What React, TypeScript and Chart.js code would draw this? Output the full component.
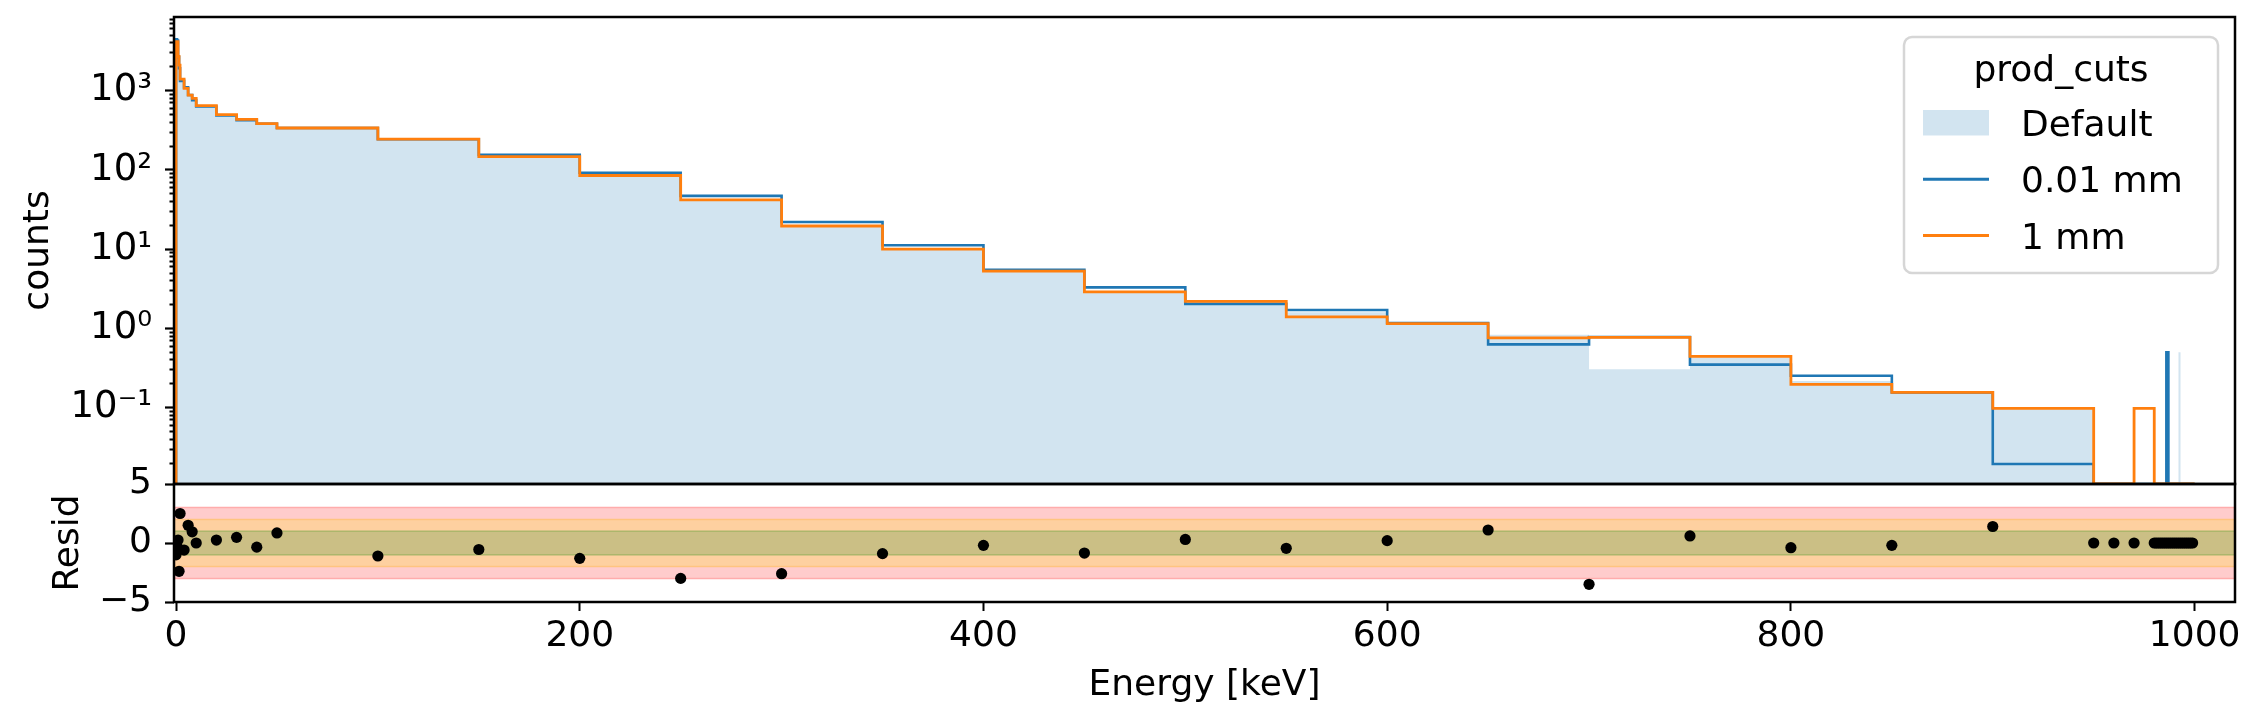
import React, { useEffect, useRef } from 'react';
import { Chart, registerables } from 'chart.js';
Chart.register(...registerables);

// histogram bin edges [keV]
const binEdges = [
  0, 0.5, 1, 1.5, 2, 4, 6, 8, 10, 20, 30, 40, 50,
  100, 150, 200, 250, 300, 350, 400, 450, 500, 550, 600, 650, 700, 750, 800, 850, 900,
  950, 960, 970,
  980, 981, 982, 983, 984, 985, 986, 987, 988, 989, 990, 991, 992, 993, 994, 995, 996, 997, 998, 999, 1000,
];

// counts per bin (one value per bin, left edge = binEdges[i])
const defaultCounts = [
  4460, 4300, 2650, 1920, 1330, 1070, 880, 760, 630, 485, 425, 383, 338,
  244, 147, 85, 42, 19.6, 10.0, 5.3, 2.9, 2.04, 1.6, 1.15, 0.83, 0.305, 0.44, 0.217, 0.156, 0.098,
  0, 0, 0,
  0, 0, 0, 0, 0, 0, 0, 0, 0, 0, 0, 0, 0.5, 0, 0, 0, 0, 0, 0, 0,
];
const fineCutCounts = [
  4460, 4300, 2650, 1920, 1330, 1100, 880, 760, 630, 485, 425, 383, 338,
  244, 155, 92, 47, 22, 11.2, 5.5, 3.3, 2.04, 1.71, 1.17, 0.63, 0.78, 0.35, 0.253, 0.156, 0.0195,
  0, 0, 0,
  0, 0, 0, 0, 0, 0, 0.5, 0, 0, 0, 0, 0, 0, 0, 0, 0, 0, 0, 0, 0,
];
const coarseCutCounts = [
  4150, 4150, 2700, 2100, 1400, 1070, 880, 800, 647, 500, 435, 383, 338,
  244, 147, 85, 42, 19.6, 10.0, 5.3, 2.9, 2.2, 1.4, 1.15, 0.76, 0.77, 0.445, 0.197, 0.156, 0.098,
  0, 0, 0.098,
  0, 0, 0, 0, 0, 0, 0, 0, 0, 0, 0, 0, 0, 0, 0, 0, 0, 0, 0, 0,
];
const residuals = [
  -1.0, -0.3, 0.25, -2.4, 2.5, -0.6, 1.5, 0.95, 0.0, 0.25, 0.48, -0.35, 0.85,
  -1.1, -0.55, -1.3, -3.0, -2.6, -0.9, -0.2, -0.85, 0.3, -0.45, 0.2, 1.1, -3.5, 0.6, -0.4, -0.2, 1.4,
  0, 0, 0,
  0, 0, 0, 0, 0, 0, 0, 0, 0, 0, 0, 0, 0, 0, 0, 0, 0, 0, 0, 0,
];

const seriesLabels = ['Default', '0.01 mm', '1 mm'];
const legendTitle = 'prod_cuts';

const xTicks = [0, 200, 400, 600, 800, 1000];
const countDecades = [0.1, 1, 10, 100, 1000];
const countDecadeLabels = ['10⁻¹', '10⁰', '10¹', '10²', '10³'];
const minorDecades = [0.01, 0.1, 1, 10, 100, 1000];
const minorSteps = [2, 3, 4, 5, 6, 7, 8, 9];
const residTicks = [-5, 0, 5];
const residTickLabels = ['−5', '0', '5'];
const sigmaBands = [3, 2, 1];

const X_MIN = -1;
const X_MAX = 1020;
const COUNT_MIN = 0.0109;
const COUNT_MAX = 8500;

const FONT = 'DejaVu Sans';
const bandFill = ['rgb(255,204,204)', 'rgb(254,208,160)', 'rgb(203,191,133)'];
const bandEdge = ['rgb(255,172,172)', 'rgb(255,196,128)', 'rgb(172,182,108)'];

// histogram outline as points for a 'before' stepped line
function stepPoints(values: number[]) {
  const pts = [{ x: binEdges[0], y: COUNT_MIN }];
  values.forEach((v, i) => pts.push({ x: binEdges[i], y: v > 0 ? v : COUNT_MIN }));
  pts.push({ x: binEdges[binEdges.length - 1], y: COUNT_MIN });
  return pts;
}

const framePlugin = {
  id: 'panelFrames',
  afterDatasetsDraw(chart: any) {
    const { ctx, chartArea, scales } = chart;
    ctx.save();
    ctx.strokeStyle = '#000';
    ctx.lineWidth = 2.5;
    for (const id of ['yMain', 'yRes']) {
      const s = scales[id];
      ctx.strokeRect(chartArea.left, s.top, chartArea.right - chartArea.left, s.bottom - s.top);
    }
    ctx.restore();
  },
};

const legendPlugin = {
  id: 'insetLegend',
  afterDraw(chart: any) {
    const { ctx, chartArea } = chart;
    const main = chart.scales.yMain;
    const width = 314;
    const height = 236;
    const right = chartArea.right - 17;
    const left = right - width;
    const top = main.top + 20;
    ctx.save();
    ctx.beginPath();
    ctx.roundRect(left, top, width, height, 8);
    ctx.fillStyle = 'rgba(255,255,255,0.8)';
    ctx.fill();
    ctx.strokeStyle = 'rgba(204,204,204,0.8)';
    ctx.lineWidth = 2.5;
    ctx.stroke();

    ctx.font = `36px "${FONT}"`;
    ctx.fillStyle = '#000';
    ctx.textAlign = 'center';
    ctx.textBaseline = 'alphabetic';
    ctx.fillText(legendTitle, left + width / 2, top + 44);

    const entries = chart.data.datasets.filter((ds: any) => ds.label);
    entries.forEach((ds: any, i: number) => {
      const base = top + 99 + i * 56.3;
      if (ds.fill) {
        ctx.fillStyle = ds.backgroundColor;
        ctx.fillRect(left + 19, base - 26, 66, 25.5);
      } else {
        ctx.strokeStyle = ds.borderColor;
        ctx.lineWidth = 3;
        ctx.beginPath();
        ctx.moveTo(left + 19, base - 13);
        ctx.lineTo(left + 85, base - 13);
        ctx.stroke();
      }
      ctx.fillStyle = '#000';
      ctx.textAlign = 'left';
      ctx.fillText(ds.label, left + 117, base);
    });
    ctx.restore();
  },
};

const App: React.FC = () => {
  const canvasRef = useRef<HTMLCanvasElement>(null);
  const chartRef = useRef<Chart | null>(null);

  useEffect(() => {
    if (!canvasRef.current) return;
    if (chartRef.current) chartRef.current.destroy();

    const bandDatasets: any[] = [];
    sigmaBands.forEach((s, i) => {
      bandDatasets.push({
        label: '',
        data: [{ x: X_MIN, y: s }, { x: X_MAX, y: s }],
        yAxisID: 'yRes',
        borderColor: bandEdge[i],
        borderWidth: 1.5,
        backgroundColor: bandFill[i],
        fill: '+1',
        pointRadius: 0,
        order: 40 - i * 2,
      });
      bandDatasets.push({
        label: '',
        data: [{ x: X_MIN, y: -s }, { x: X_MAX, y: -s }],
        yAxisID: 'yRes',
        borderColor: bandEdge[i],
        borderWidth: 1.5,
        fill: false,
        pointRadius: 0,
        order: 39 - i * 2,
      });
    });

    const isMajor = (v: number) => countDecades.includes(v);

    chartRef.current = new Chart(canvasRef.current, {
      type: 'line',
      data: {
        datasets: [
          {
            label: seriesLabels[0],
            data: stepPoints(defaultCounts),
            yAxisID: 'yMain',
            stepped: 'before',
            fill: 'start',
            backgroundColor: 'rgba(31,119,180,0.2)',
            borderColor: 'rgba(0,0,0,0)',
            borderWidth: 0,
            pointRadius: 0,
            order: 10,
          },
          {
            label: seriesLabels[1],
            data: stepPoints(fineCutCounts),
            yAxisID: 'yMain',
            stepped: 'before',
            fill: false,
            borderColor: '#1f77b4',
            borderWidth: 2.6,
            pointRadius: 0,
            order: 9,
          },
          {
            label: seriesLabels[2],
            data: stepPoints(coarseCutCounts),
            yAxisID: 'yMain',
            stepped: 'before',
            fill: false,
            borderColor: '#ff7f0e',
            borderWidth: 2.8,
            pointRadius: 0,
            order: 8,
          },
          ...bandDatasets,
          {
            label: '',
            data: residuals.map((r, i) => ({ x: binEdges[i], y: r })),
            yAxisID: 'yRes',
            showLine: false,
            pointRadius: 5.6,
            pointBackgroundColor: '#000',
            pointBorderWidth: 0,
            order: 1,
          },
        ] as any,
      },
      options: {
        responsive: false,
        animation: false,
        events: [],
        layout: { padding: { top: 17, right: 26, left: 0, bottom: 0 } },
        plugins: { legend: { display: false }, tooltip: { enabled: false } },
        scales: {
          x: {
            type: 'linear',
            position: 'bottom',
            min: X_MIN,
            max: X_MAX,
            bounds: 'data',
            afterBuildTicks: (s: any) => {
              s.ticks = xTicks.map((v) => ({ value: v }));
            },
            afterFit: (s: any) => {
              s.height = 123;
              s.paddingLeft = 0;
              s.paddingRight = 0;
            },
            border: { display: false },
            grid: { drawOnChartArea: false, drawTicks: true, tickLength: 9, tickColor: '#000', tickWidth: 2 },
            ticks: {
              autoSkip: false,
              maxRotation: 0,
              padding: 4,
              color: '#000',
              font: { family: FONT, size: 36 },
              callback: (v: any) => String(v),
            },
            title: {
              display: true,
              text: 'Energy [keV]',
              color: '#000',
              font: { family: FONT, size: 36 },
              padding: { top: 0, bottom: 18 },
            },
          },
          yMain: {
            type: 'logarithmic',
            position: 'left',
            stack: 'panels',
            stackWeight: 467,
            weight: 2,
            min: COUNT_MIN,
            max: COUNT_MAX,
            bounds: 'data',
            afterBuildTicks: (s: any) => {
              const ticks: any[] = [];
              minorDecades.forEach((d) => {
                if (isMajor(d)) ticks.push({ value: d, major: true });
                minorSteps.forEach((m) => {
                  const v = d * m;
                  if (v > COUNT_MIN && v < COUNT_MAX) ticks.push({ value: v, major: false });
                });
              });
              s.ticks = ticks.sort((a, b) => a.value - b.value);
            },
            afterFit: (s: any) => {
              s.width = 174;
              s.paddingTop = 0;
              s.paddingBottom = 0;
            },
            border: { display: false },
            grid: {
              drawOnChartArea: false,
              drawTicks: true,
              tickLength: 9,
              tickColor: '#000',
              tickWidth: (c: any) => (isMajor(c.tick?.value) ? 2.2 : 1.8),
              tickBorderDash: (c: any) => (isMajor(c.tick?.value) ? [] : [0, 4.5, 4.5, 100]),
            },
            ticks: {
              autoSkip: false,
              padding: 13,
              color: '#000',
              font: { family: FONT, size: 37 },
              callback: (v: any) => {
                const i = countDecades.indexOf(v);
                return i >= 0 ? countDecadeLabels[i] : '';
              },
            },
            title: {
              display: true,
              text: 'counts',
              color: '#000',
              font: { family: FONT, size: 36 },
              padding: { top: 17, bottom: 0 },
            },
          },
          yRes: {
            type: 'linear',
            position: 'left',
            stack: 'panels',
            stackWeight: 118,
            weight: 1,
            min: -5,
            max: 5,
            bounds: 'data',
            afterBuildTicks: (s: any) => {
              s.ticks = residTicks.map((v) => ({ value: v }));
            },
            afterFit: (s: any) => {
              s.width = 174;
              s.paddingTop = 0;
              s.paddingBottom = 0;
            },
            border: { display: false },
            grid: { drawOnChartArea: false, drawTicks: true, tickLength: 9, tickColor: '#000', tickWidth: 2.2 },
            ticks: {
              autoSkip: false,
              padding: 13,
              color: '#000',
              font: { family: FONT, size: 36 },
              callback: (v: any) => {
                const i = residTicks.indexOf(v);
                return i >= 0 ? residTickLabels[i] : '';
              },
            },
            title: {
              display: true,
              text: 'Resid',
              color: '#000',
              font: { family: FONT, size: 36 },
              padding: { top: 47, bottom: 0 },
            },
          },
        },
      } as any,
      plugins: [framePlugin, legendPlugin],
    });

    return () => {
      if (chartRef.current) {
        chartRef.current.destroy();
        chartRef.current = null;
      }
    };
  }, []);

  return (
    <div style={{ position: 'fixed', left: 0, top: 0, width: 2261, height: 725, background: '#fff' }}>
      <canvas ref={canvasRef} width={2261} height={725} style={{ display: 'block' }} />
    </div>
  );
};

export default App;
